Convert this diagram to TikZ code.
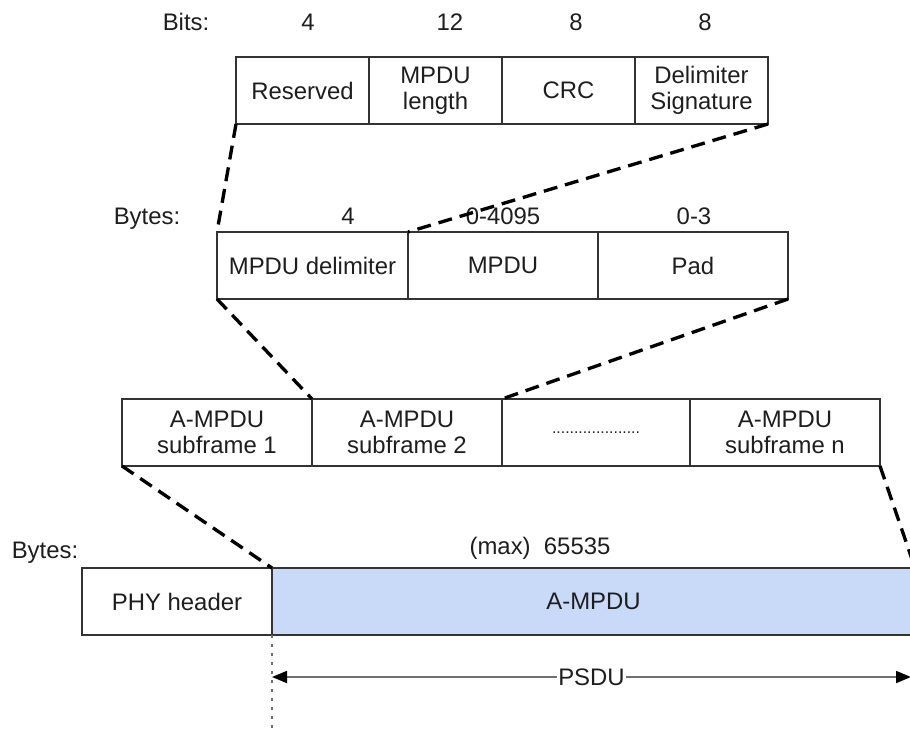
\documentclass[tikz,border=0pt]{standalone}
\usepackage{fontspec}
\setmainfont{Liberation Sans}
\usepackage{xcolor}
\usepackage{tikz}
\usetikzlibrary{arrows.meta,positioning,calc}

\definecolor{boxline}{HTML}{333333}
\definecolor{txtc}{HTML}{1E1E1E}
\definecolor{psdublue}{RGB}{201,218,248}
\definecolor{arrowgray}{HTML}{707070}

\begin{document}
\begin{tikzpicture}[x=0.2mm, y=-0.2mm,
    font=\fontsize{13.6}{14.6}\selectfont, text=txtc,
    cell/.style={draw=boxline, line width=1.2pt, minimum height=13.4mm,
                 inner sep=0pt, outer sep=0pt, anchor=north west, align=center},
    lbl/.style={inner sep=1pt},
    zoomline/.style={draw=black, line width=1.9pt, dash pattern=on 2.8mm off 1.6mm},
    guide/.style={draw=arrowgray, line width=1.1pt, dash pattern=on 0.6mm off 1.2mm}]

    \useasboundingbox (0,0) rectangle (910,731);

    % Delimiter fields (bits)
    \node [lbl] (bits) at (186,22) {Bits:};
    \node [lbl] at (308,22) {4};
    \node [lbl] at (450,22) {12};
    \node [lbl] at (576,22) {8};
    \node [lbl] at (705,22) {8};
    \node [cell, minimum width=26.6mm] (res) at (236,57) {Reserved};
    \node [cell, minimum width=26.6mm] (len) at (369,57) {MPDU\\length};
    \node [cell, minimum width=26.6mm] (crc) at (502,57) {CRC};
    \node [cell, minimum width=26.6mm] (sig) at (635,57) {Delimiter\\Signature};

    % A-MPDU subframe (bytes)
    \node [lbl] (bytesA) at (147,219) {Bytes:};
    \node [lbl] at (348,216) {4};
    \node [lbl] at (503,216) {0-4095};
    \node [lbl] at (694,216) {0-3};
    \node [cell, minimum width=38.2mm] (mdel) at (217,232) {MPDU delimiter};
    \node [cell, minimum width=38mm] (mpdu) at (408,232) {MPDU};
    \node [cell, minimum width=38mm] (pad) at (598,232) {Pad};

    % Subframes
    \node [cell, minimum width=38mm] (sub1) at (122,399) {A-MPDU\\subframe 1};
    \node [cell, minimum width=38mm] (sub2) at (312,399) {A-MPDU\\subframe 2};
    \node [cell, minimum width=37.6mm] (dots) at (502,399)
        {\fontsize{9}{10}\selectfont ....................};
    \node [cell, minimum width=38mm] (subn) at (690,399) {A-MPDU\\subframe n};

    % PPDU
    \node [lbl] (bytesB) at (45,553) {Bytes:};
    \node [lbl] (maxlen) at (540,548) {(max)\ \ 65535};
    \node [cell, minimum width=38mm] (phy) at (82,568) {PHY header};
    \node [cell, minimum width=128.6mm, fill=psdublue] (ampdu) at (272,568) {A-MPDU};

    % Zoom lines
    \draw [zoomline] (res.south west) -- (mdel.north west);
    \draw [zoomline] (sig.south east) -- (mpdu.north west);
    \draw [zoomline] (mdel.south west) -- (sub2.north west);
    \draw [zoomline] (pad.south east) -- (dots.north west);
    \draw [zoomline] (sub1.south west) -- (ampdu.north west);
    \draw [zoomline] (subn.south east) -- (ampdu.north east);

    % PSDU span
    \coordinate (guideEnd) at (272,731);
    \coordinate (psduL) at (272,677);
    \coordinate (psduR) at (911,677);
    \draw [guide] (ampdu.south west) -- (guideEnd);
    \draw [draw=arrowgray, line width=1pt,
           {Triangle[length=3mm,width=2.4mm,black]}-{Triangle[length=3mm,width=2.4mm,black]}]
        (psduL) -- node [fill=white, inner sep=1pt] (psdu) {PSDU} (psduR);

\end{tikzpicture}
\end{document}
